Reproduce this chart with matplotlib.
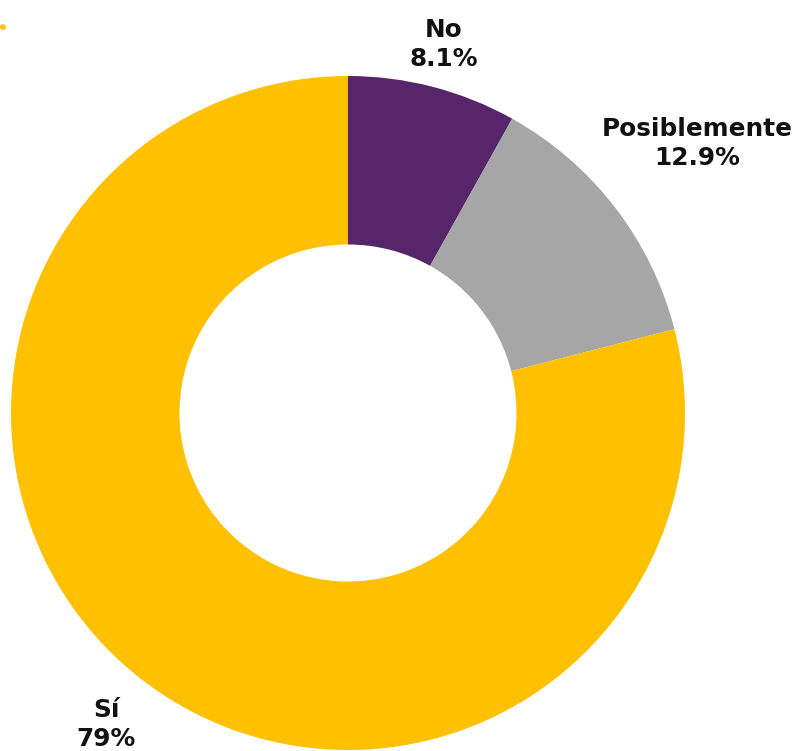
import numpy as np
import matplotlib
matplotlib.use("Agg")
import matplotlib.pyplot as plt

labels = ["No", "Posiblemente", "Sí"]
values = [8.1, 12.9, 79.0]
value_text = ["8.1%", "12.9%", "79%"]
colors = ["#57266A", "#A6A6A6", "#FFC000"]

W, H = 798, 751
fig = plt.figure(figsize=(W / 100, H / 100), dpi=100)
ax = fig.add_axes([0, 0, 1, 1])

cx, cy, R = 348, H - 413, 337
ax.pie(values, colors=colors, startangle=90, counterclock=False,
       radius=R, center=(cx, cy), frame=True,
       wedgeprops=dict(width=R * 0.5, linewidth=0))
ax.set_xlim(0, W)
ax.set_ylim(0, H)
ax.set_aspect("equal")
ax.axis("off")

# labels outside, at the slice mid-angle
dist = [1.13, 1.31, 1.17]
cum = np.cumsum([0] + values[:-1])
for lab, v, c0, txt, d in zip(labels, values, cum, value_text, dist):
    ang = np.deg2rad(90 - (c0 + v / 2) * 3.6)
    x = cx + R * d * np.cos(ang)
    y = cy + R * d * np.sin(ang)
    ax.text(x, y, f"{lab}\n{txt}", ha="center", va="center",
            fontsize=17.8, fontweight="bold", color="#111111",
            family="DejaVu Sans", linespacing=1.22)

# small legend remnant dot at top-left
fig.patches.append(plt.Circle((3 / W, 1 - 27 / H), 2.2 / W,
                              transform=fig.transFigure, color="#FFC000"))

fig.savefig("out.png", dpi=100)
